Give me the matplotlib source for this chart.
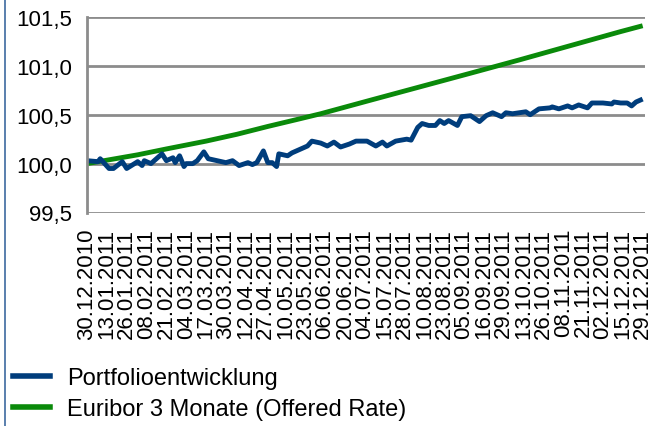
import matplotlib
matplotlib.use("Agg")
import matplotlib.pyplot as plt
from matplotlib.lines import Line2D
from matplotlib.ticker import FuncFormatter

plt.rcParams['font.family'] = ['Liberation Sans', 'DejaVu Sans']

tage_portfolio = [0, 5, 6, 10, 12, 16, 18, 23, 25, 26, 29, 34, 36, 39, 40, 42, 44, 45,
                  48, 50, 53, 55, 59, 63, 66, 69, 73, 75, 77, 80, 82, 84, 86, 87, 91,
                  93, 97, 100, 102, 106, 109, 112, 115, 119, 122, 127, 131, 134, 136,
                  140, 145, 147, 150, 152, 155, 158, 160, 162, 164, 168, 170, 174, 178,
                  181, 184, 188, 190, 193, 196, 199, 201, 205, 210, 211, 214, 218, 220,
                  223, 227, 229, 234, 238, 239, 242, 245, 247, 249, 252]
portfolio = [100.03, 100.02, 100.05, 99.95, 99.95, 100.02, 99.95, 100.02, 99.98, 100.03,
             100.00, 100.10, 100.03, 100.06, 100.01, 100.08, 99.97, 100.00, 100.00,
             100.03, 100.12, 100.05, 100.03, 100.01, 100.03, 99.98, 100.01, 99.99,
             100.01, 100.13, 100.01, 100.01, 99.97, 100.10, 100.08, 100.11, 100.15,
             100.18, 100.23, 100.21, 100.18, 100.22, 100.17, 100.20, 100.23, 100.23,
             100.18, 100.22, 100.18, 100.23, 100.25, 100.24, 100.37, 100.41, 100.39,
             100.39, 100.44, 100.41, 100.44, 100.39, 100.48, 100.49, 100.43, 100.49,
             100.52, 100.48, 100.52, 100.51, 100.52, 100.53, 100.50, 100.56, 100.57,
             100.58, 100.56, 100.59, 100.57, 100.60, 100.57, 100.62, 100.62, 100.61,
             100.63, 100.62, 100.62, 100.59, 100.63, 100.66]

tage_euribor = [0, 9, 23, 36, 54, 68, 82, 95, 106, 128, 151, 174, 196, 219, 242, 252]
euribor = [100.00, 100.035, 100.09, 100.15, 100.23, 100.30, 100.38, 100.45, 100.51,
           100.645, 100.785, 100.925, 101.06, 101.205, 101.35, 101.41]

datum_labels = ["30.12.2010", "13.01.2011", "26.01.2011", "08.02.2011", "21.02.2011",
                "04.03.2011", "17.03.2011", "30.03.2011", "12.04.2011", "27.04.2011",
                "10.05.2011", "23.05.2011", "06.06.2011", "20.06.2011", "04.07.2011",
                "15.07.2011", "28.07.2011", "10.08.2011", "23.08.2011", "05.09.2011",
                "16.09.2011", "29.09.2011", "13.10.2011", "26.10.2011", "08.11.2011",
                "21.11.2011", "02.12.2011", "15.12.2011", "29.12.2011"]
datum_tage = [i * 9 for i in range(len(datum_labels))]

fig = plt.figure(figsize=(6.54, 4.27), dpi=100)
ax = fig.add_axes([0.133, 0.5, 0.853, 0.458])

blau = "#003d7c"
gruen = "#0a8a0a"
ax.plot(tage_euribor, euribor, color=gruen, lw=3.5, solid_capstyle="butt")
ax.plot(tage_portfolio, portfolio, color=blau, lw=3.5, solid_capstyle="butt")

ax.set_ylim(99.5, 101.5)
ax.set_xlim(0, 253)
ax.set_yticks([99.5, 100.0, 100.5, 101.0, 101.5])
ax.yaxis.set_major_formatter(FuncFormatter(lambda v, p: f"{v:.1f}".replace(".", ",")))
ax.set_xticks(datum_tage)
ax.set_xticklabels(datum_labels, rotation=90, fontsize=16)
ax.tick_params(axis="y", labelsize=16, length=0, pad=11)
ax.tick_params(axis="x", length=0, pad=11)
ax.grid(axis="y", color="#8c8c8c", lw=2)
ax.set_axisbelow(True)
for s in ["top", "right", "bottom"]:
    ax.spines[s].set_visible(False)
ax.spines["left"].set_color("#8c8c8c")
ax.spines["left"].set_linewidth(2)

# Legende
handles = [Line2D([], [], color=blau, lw=4), Line2D([], [], color=gruen, lw=4)]
fig.legend(handles, ["Portfolioentwicklung", "Euribor 3 Monate (Offered Rate)"],
           loc="upper left", bbox_to_anchor=(13 / 654, 1 - 368 / 427), frameon=False,
           fontsize=17, handlelength=1.55, labelspacing=0.4, handletextpad=0.75,
           borderpad=0, borderaxespad=0)

# linker Rahmen
fig.add_artist(Line2D([0.007, 0.007], [0, 1], color="#3d6aa0", lw=1.2,
                      transform=fig.transFigure))

fig.savefig("out.png", dpi=100)
